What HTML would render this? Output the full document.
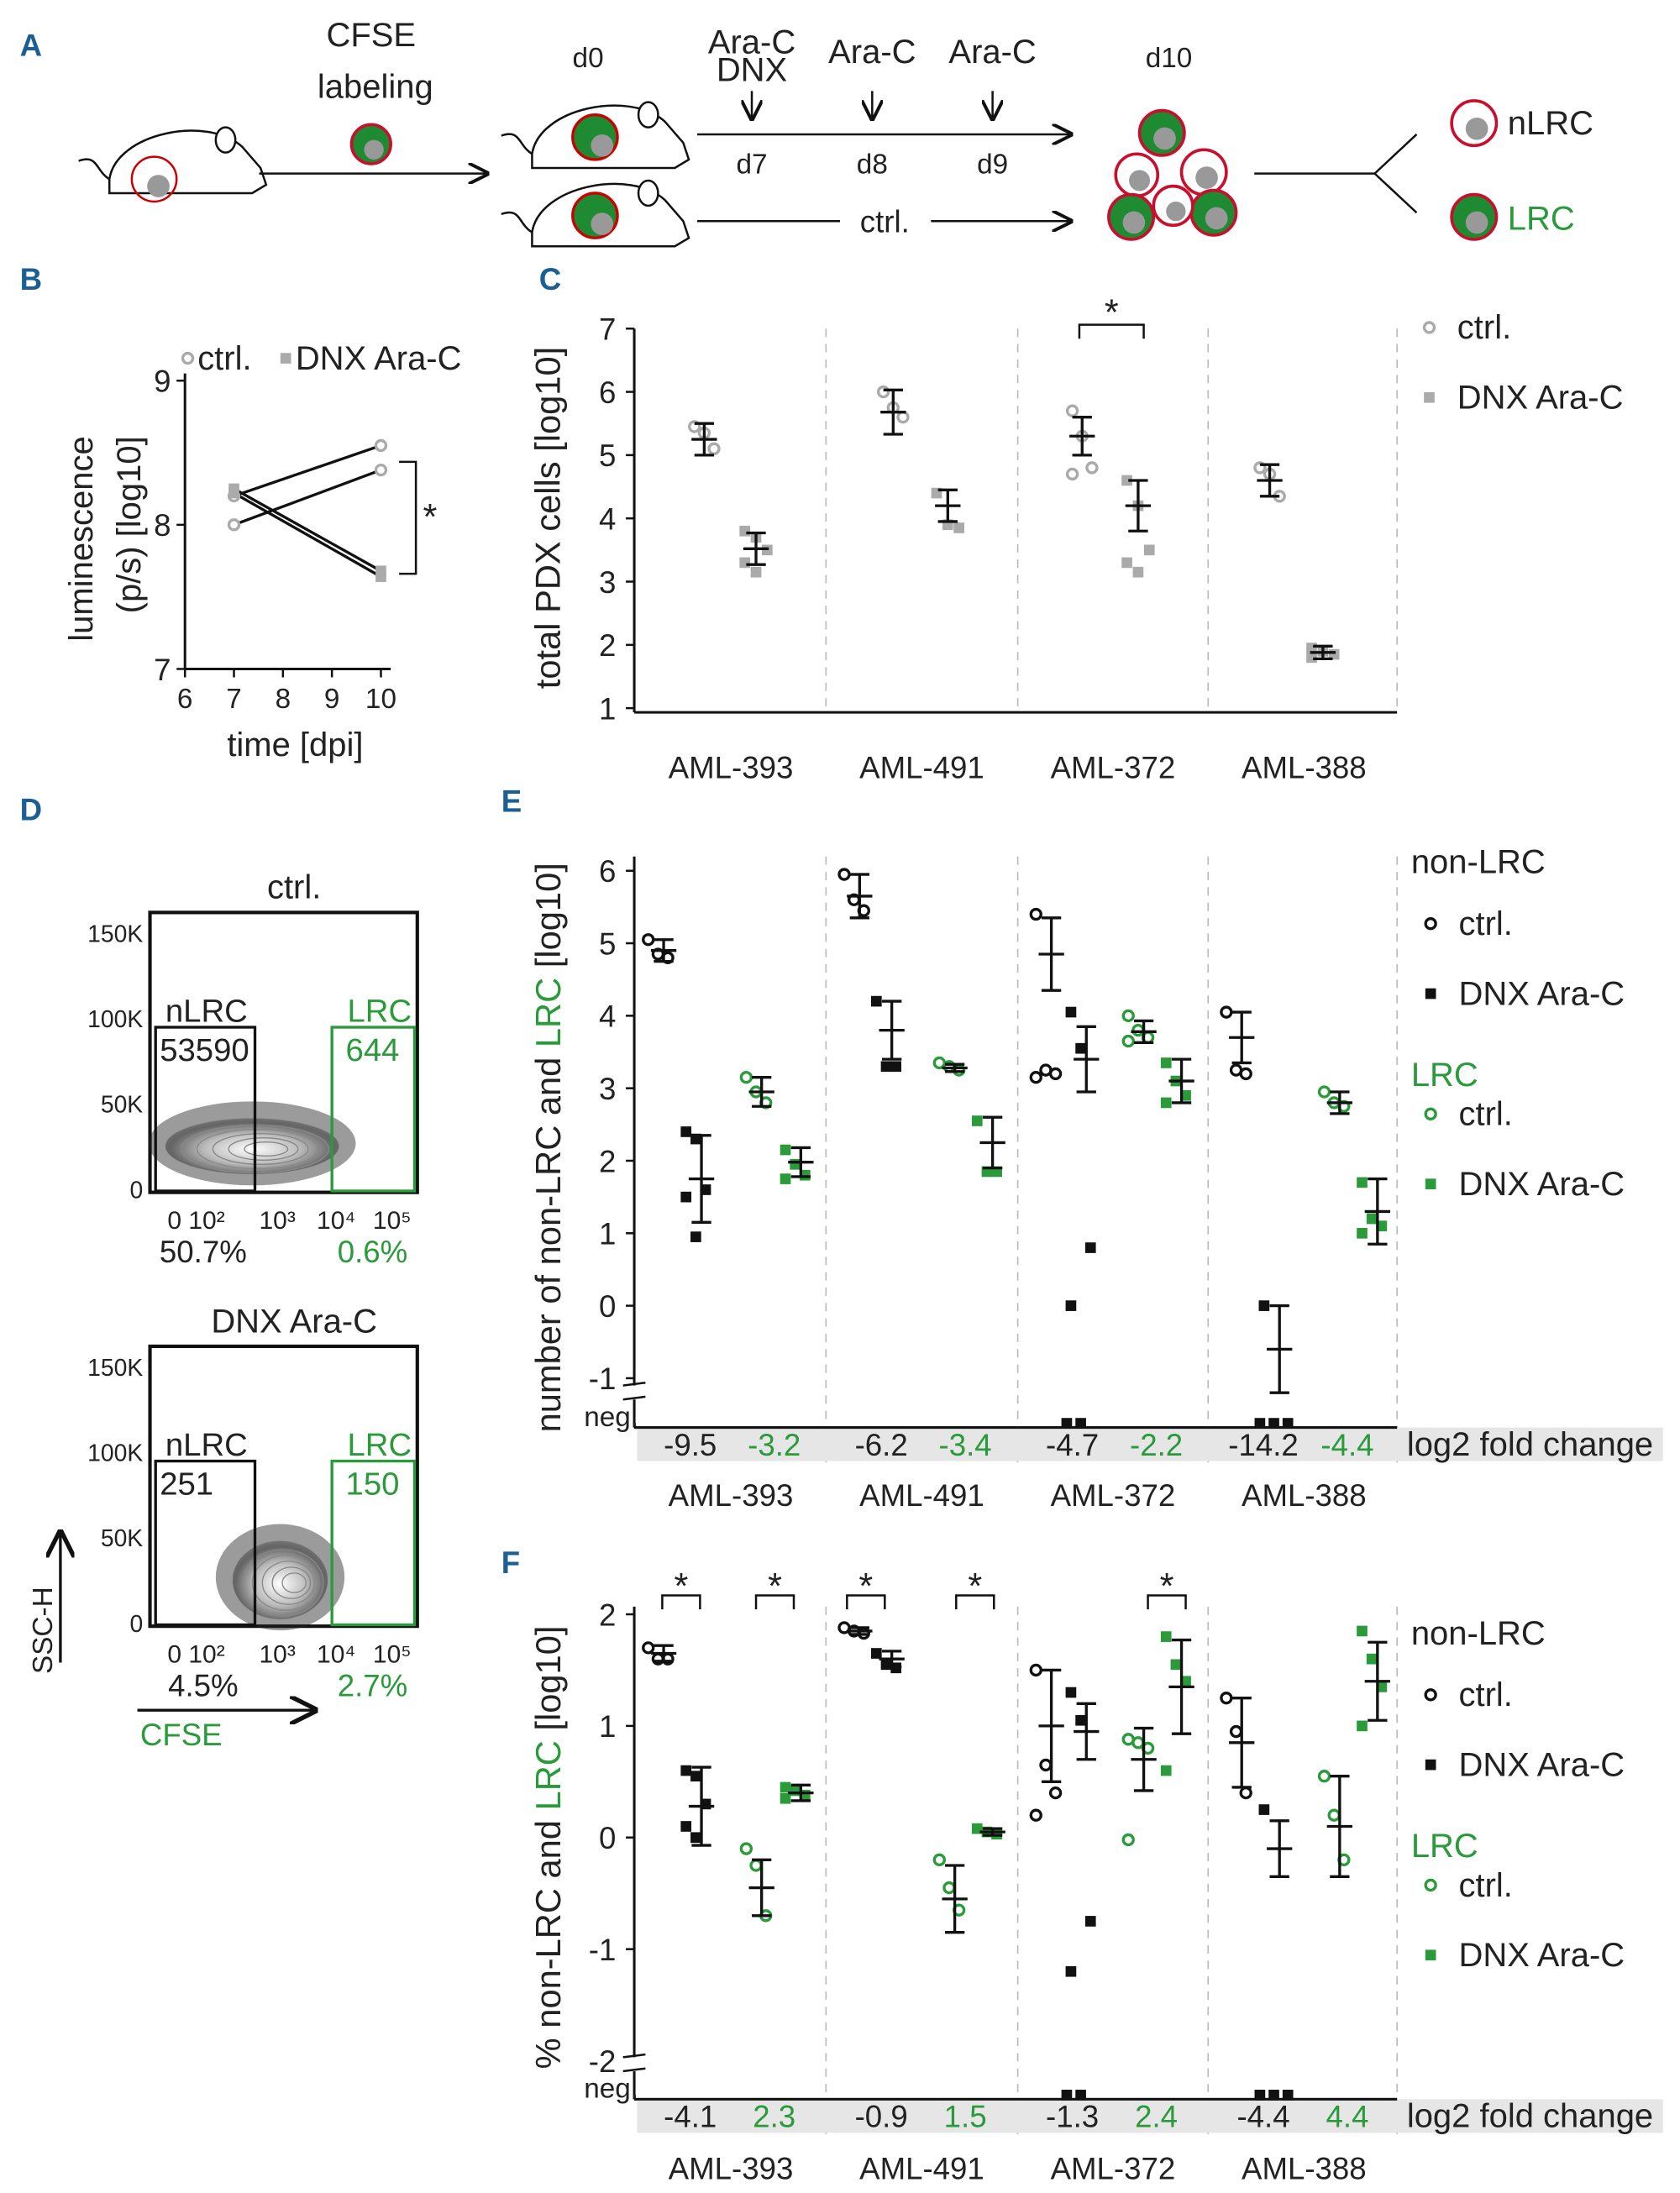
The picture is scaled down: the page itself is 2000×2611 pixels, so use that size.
<!DOCTYPE html>
<html><head><meta charset="utf-8">
<style>
html,body{margin:0;padding:0;background:#fff;}
svg{display:block;font-family:"Liberation Sans","DejaVu Sans",sans-serif;}
</style></head>
<body>
<svg id="fig" width="2000" height="2611" viewBox="0 0 1200 1567" xmlns="http://www.w3.org/2000/svg">
<defs>
<marker id="ah" markerWidth="10" markerHeight="10" refX="9" refY="5" orient="auto"><path d="M0,0 L10,5 L0,10" fill="none" stroke="#111" stroke-width="1.6"/></marker>
<radialGradient id="cg" cx="50%" cy="55%" r="55%"><stop offset="0" stop-color="#fff"/><stop offset="0.5" stop-color="#bbb"/><stop offset="0.85" stop-color="#666"/><stop offset="1" stop-color="#444" stop-opacity="0.4"/></radialGradient>
</defs>
<g fill="#1c5f93" font-weight="bold" font-size="22">
<text x="14" y="40">A</text>
<text x="14" y="207">B</text>
<text x="385" y="207">C</text>
<text x="14" y="586">D</text>
<text x="358" y="580">E</text>
<text x="358" y="1124">F</text>
</g>
<g id="panelA"></g>
<g id="panelB"></g>
<g id="panelC"></g>
<g id="panelD"></g>
<g id="panelE"></g>
<g id="panelF"></g>
</svg>
<script>
// ---------- data ----------
const groups = ["AML-393","AML-491","AML-372","AML-388"];
// Panel B
const bDays = [7, 10];
const bCtrl = [[8.2, 8.55],[8.0, 8.38]];
const bDnx = [[8.25, 7.68],[8.22, 7.64]];
const bXTicks = [6,7,8,9,10];
const bYTicks = [7,8,9];
// Panel C
const cCtrlPts = [[5.45,5.35,5.1],[6.0,5.75,5.6],[5.7,5.3,4.8,4.7],[4.8,4.7,4.35]];
const cDnxPts = [[3.8,3.7,3.5,3.3,3.15],[4.4,3.9,3.85],[4.6,4.2,3.5,3.3,3.15],[1.95,1.9,1.85,1.8]];
const cCtrlMean = [5.25,5.68,5.3,4.6];
const cCtrlErr = [0.25,0.35,0.3,0.25];
const cDnxMean = [3.52,4.2,4.2,1.88];
const cDnxErr = [0.25,0.25,0.4,0.1];
const cYTicks = [1,2,3,4,5,6,7];
// Panel E (null = neg)
const eNCtrl = [[5.05,4.85,4.8],[5.95,5.6,5.45],[5.4,3.25,3.2,3.15],[4.05,3.25,3.2]];
const eNDnx = [[2.4,2.3,1.6,1.5,0.95],[4.2,3.3,3.3],[4.05,3.55,0.8,0,null,null],[0,null,null,null]];
const eLCtrl = [[3.15,2.95,2.8],[3.35,3.3,3.25],[4.0,3.8,3.7,3.65],[2.95,2.8,2.75]];
const eLDnx = [[2.15,1.95,1.8,1.75],[2.55,1.85,1.85],[3.35,3.1,2.9,2.8],[1.7,1.2,1.1,1.0]];
const eMean = [[4.9,1.75,2.95,1.98],[5.65,3.8,3.28,2.25],[4.85,3.4,3.78,3.1],[3.7,-0.6,2.8,1.3]];
const eErr = [[0.15,0.6,0.2,0.2],[0.3,0.4,0.05,0.35],[0.5,0.45,0.15,0.3],[0.35,0.6,0.15,0.45]];
const eFold = [["-9.5","-3.2"],["-6.2","-3.4"],["-4.7","-2.2"],["-14.2","-4.4"]];
const eYTicks = [-1,0,1,2,3,4,5,6];
// Panel F
const fNCtrl = [[1.7,1.6,1.6],[1.88,1.85,1.83],[1.5,0.65,0.4,0.2],[1.25,0.95,0.4]];
const fNDnx = [[0.6,0.55,0.3,0.1,0.0],[1.65,1.55,1.52],[1.3,1.05,-0.75,-1.2,null,null],[0.25,null,null,null]];
const fLCtrl = [[-0.1,-0.25,-0.7],[-0.2,-0.45,-0.65],[0.88,0.85,0.8,-0.02],[0.55,0.2,-0.2]];
const fLDnx = [[0.45,0.42,0.38,0.35],[0.08,0.05,0.03],[1.8,1.55,1.4,0.6],[1.85,1.6,1.35,1.0]];
const fMean = [[1.65,0.28,-0.45,0.4],[1.85,1.6,-0.55,0.05],[1.0,0.95,0.7,1.35],[0.85,-0.1,0.1,1.4]];
const fErr = [[0.07,0.35,0.25,0.07],[0.03,0.07,0.3,0.03],[0.5,0.25,0.28,0.42],[0.4,0.25,0.45,0.35]];
const fFold = [["-4.1","2.3"],["-0.9","1.5"],["-1.3","2.4"],["-4.4","4.4"]];
const fYTicks = [-2,-1,0,1,2];

// ---------- helpers ----------
const NS="http://www.w3.org/2000/svg";
const GREEN="#2a9a3a", GREY="#aaaaaa";
function mk(parent, tag, attrs, text){
  const el=document.createElementNS(NS,tag);
  for(const k in attrs) el.setAttribute(k, attrs[k]);
  if(text!==undefined) el.textContent=text;
  parent.appendChild(el);
  return el;
}
function txt(p,x,y,s,size,opts){
  opts=opts||{};
  const t=mk(p,"text",{x:x,y:y,"font-size":size,fill:opts.fill||"#222","text-anchor":opts.anchor||"start"},s);
  if(opts.rot) t.setAttribute("transform","rotate(-90 "+x+" "+y+")");
  
  
  return t;
}
function line(p,x1,y1,x2,y2,w,c,dash){
  const l=mk(p,"line",{x1:x1,y1:y1,x2:x2,y2:y2,stroke:c||"#111","stroke-width":w||1.5});
  if(dash) l.setAttribute("stroke-dasharray",dash);
  return l;
}
function marker(p,x,y,type,color){
  let el;
  if(type==="circle") el=mk(p,"circle",{cx:x,cy:y,r:3.6,fill:"#fff",stroke:color,"stroke-width":2});
  else el=mk(p,"rect",{x:x-3.8,y:y-3.8,width:7.6,height:7.6,fill:color});
  
  
  return el;
}
function errbar(p,x,yc,ylo,yhi,w){
  const g=mk(p,"g",{});
  
  
  line(g,x,yhi,x,ylo,2);
  line(g,x-w,yhi,x+w,yhi,2);line(g,x-w,ylo,x+w,ylo,2);line(g,x-w*1.3,yc,x+w*1.3,yc,2);
}

// ---------- Panel A ----------
(function(){
  const g=document.getElementById("panelA");
  function mouse(x,y,cellColor){
    const m=mk(g,"g",{});
    
    
    mk(m,"path",{d:`M${x},${y+28} C${x+5},${y-5} ${x+70},${y-18} ${x+95},${y+5} L${x+108},${y+20} L${x+112},${y+32} L${x+102},${y+38} L${x},${y+38} Z`,fill:"#fff",stroke:"#111","stroke-width":1.5});
    mk(m,"ellipse",{cx:x+83,cy:y,rx:7,ry:9,fill:"#fff",stroke:"#111","stroke-width":1.5});
    mk(m,"path",{d:`M${x},${y+28} C${x-10},${y+22} ${x-8},${y+10} ${x-22},${y+15}`,fill:"none",stroke:"#111","stroke-width":1.5});
    if(cellColor){
      mk(m,"circle",{cx:x+45,cy:y+16,r:16,fill:cellColor,stroke:"#c00","stroke-width":2});
      mk(m,"circle",{cx:x+50,cy:y+22,r:8,fill:"#999"});
    }
  }
  function cell(x,y,r,filled){
    const c=mk(g,"g",{});
    
    
    mk(c,"circle",{cx:x,cy:y,r:r,fill:filled?"#1e8a32":"#fff",stroke:"#c8102e","stroke-width":2.2});
    mk(c,"circle",{cx:x+2,cy:y+4,r:r*0.5,fill:"#999"});
  }
  mouse(78,100,null);
  mk(g,"circle",{cx:110,cy:128,r:16,fill:"none",stroke:"#c00","stroke-width":1.5});
  mk(g,"circle",{cx:113,cy:133,r:8,fill:"#999"});
  txt(g,265,33,"CFSE",24,{anchor:"middle"});
  txt(g,268,70,"labeling",24,{anchor:"middle"});
  cell(265,103,14,true);
  line(g,185,124,348,124,1.5).setAttribute("marker-end","url(#ah)");
  txt(g,420,48,"d0",20,{anchor:"middle"});
  mouse(380,82,"#1e8a32");
  mouse(380,138,"#1e8a32");
  txt(g,537,38,"Ara-C",24,{anchor:"middle"});txt(g,537,58,"DNX",24,{anchor:"middle"});
  txt(g,623,45,"Ara-C",24,{anchor:"middle"});txt(g,709,45,"Ara-C",24,{anchor:"middle"});
  [537,623,709].forEach((x,i)=>{line(g,x,65,x,85,1.5).setAttribute("marker-end","url(#ah)");txt(g,x,124,["d7","d8","d9"][i],20,{anchor:"middle"});});
  line(g,498,96,765,96,1.5).setAttribute("marker-end","url(#ah)");
  line(g,498,158,600,158,1.5);
  txt(g,632,166,"ctrl.",22,{anchor:"middle"});
  line(g,665,158,765,158,1.5).setAttribute("marker-end","url(#ah)");
  txt(g,835,48,"d10",20,{anchor:"middle"});
  cell(830,95,16,true);cell(812,125,15,false);cell(860,123,16,false);cell(867,152,16,true);cell(808,155,16,true);cell(838,147,14,false);
  line(g,896,124,982,124,1.5);
  mk(g,"path",{d:"M982,124 L1012,96 M982,124 L1012,152",stroke:"#111","stroke-width":1.5,fill:"none"});
  cell(1053,88,16,false);cell(1053,155,16,true);
  txt(g,1077,96,"nLRC",24,{});
  txt(g,1077,164,"LRC",24,{fill:GREEN});
})();

// ---------- Panel B ----------
(function(){
  const g=document.getElementById("panelB");
  const X=d=>132+(d-6)*35, Y=v=>375-(v-8)*103;
  line(g,X(6),Y(9.05),X(6),Y(7),1.8);line(g,X(6),Y(7),X(10.2),Y(7),1.8);
  bXTicks.forEach(t=>{line(g,X(t),Y(7),X(t),Y(7)+6,1.5);txt(g,X(t),Y(7)+28,String(t),20,{anchor:"middle",name:"x-tick-label"});});
  bYTicks.forEach(t=>{line(g,X(6)-6,Y(t),X(6),Y(t),1.5);txt(g,X(6)-10,Y(t)+8,String(t),22,{anchor:"end",name:"y-tick-label"});});
  txt(g,X(8.25),Y(7)+62,"time [dpi]",24,{anchor:"middle",name:"x-axis-title"});
  txt(g,66,385,"luminescence",24,{anchor:"middle",rot:true,name:"y-axis-title"});
  txt(g,100,375,"(p/s) [log10]",24,{anchor:"middle",rot:true,name:"y-axis-title"});
  bCtrl.forEach(s=>{line(g,X(bDays[0]),Y(s[0]),X(bDays[1]),Y(s[1]),2);});
  bDnx.forEach(s=>{line(g,X(bDays[0]),Y(s[0]),X(bDays[1]),Y(s[1]),2);});
  bCtrl.forEach(s=>{s.forEach((v,i)=>marker(g,X(bDays[i]),Y(v),"circle",GREY));});
  bDnx.forEach(s=>{s.forEach((v,i)=>marker(g,X(bDays[i]),Y(v),"square",GREY));});
  mk(g,"path",{d:"M285,330 L297,330 L297,410 L285,410",fill:"none",stroke:"#111","stroke-width":1.5});
  txt(g,302,378,"*",26,{});
  marker(g,134,256,"circle",GREY);txt(g,141,264,"ctrl.",24,{name:"legend-ctrl"});
  marker(g,204,256,"square",GREY);txt(g,211,264,"DNX Ara-C",24,{name:"legend-dnx"});
})();

// ---------- generic dot chart ----------
function dotChart(g,cfg){
  const Y=cfg.Y;
  line(g,453,cfg.yTop,453,cfg.yBot,1.8);
  line(g,453,cfg.yBot,998,cfg.yBot,1.8);
  cfg.ticks.forEach(t=>{line(g,447,Y(t),453,Y(t),1.5);txt(g,440,Y(t)+8,String(t),22,{anchor:"end",name:"y-tick-label"});});
  [590,727,863,998].forEach(x=>line(g,x,cfg.yTop,x,cfg.yBot+(cfg.band?25:0),1,"#bbb","6,5"));
  groups.forEach((n,i)=>{txt(g,522+i*136.5,cfg.labY,n,22,{anchor:"middle",name:"x-category-label"});});
}

// ---------- Panel C ----------
(function(){
  const g=document.getElementById("panelC");
  const Y=v=>506-(v-1)*45.2;
  dotChart(g,{Y:Y,yTop:Y(7),yBot:Y(1)+3,ticks:cYTicks,labY:556});
  txt(g,400,370,"total PDX cells [log10]",25,{anchor:"middle",rot:true,name:"y-axis-title"});
  const xc=[503,638,773,907], xd=[540,677,813,945];
  groups.forEach((n,i)=>{
    cCtrlPts[i].forEach((v,j)=>marker(g,xc[i]+((j%3)-1)*7,Y(v),"circle",GREY));
    cDnxPts[i].forEach((v,j)=>marker(g,xd[i]+((j%3)-1)*8,Y(v),"square",GREY));
    errbar(g,xc[i],Y(cCtrlMean[i]),Y(cCtrlMean[i]-cCtrlErr[i]),Y(cCtrlMean[i]+cCtrlErr[i]),7);
    errbar(g,xd[i],Y(cDnxMean[i]),Y(cDnxMean[i]-cDnxErr[i]),Y(cDnxMean[i]+cDnxErr[i]),7);
  });
  mk(g,"path",{d:"M771,242 L771,232 L817,232 L817,242",fill:"none",stroke:"#111","stroke-width":1.5});
  txt(g,794,232,"*",26,{anchor:"middle"});
  marker(g,1021,234,"circle",GREY);txt(g,1041,242,"ctrl.",24,{name:"legend-ctrl"});
  marker(g,1021,284,"square",GREY);txt(g,1041,292,"DNX Ara-C",24,{name:"legend-dnx"});
})();

// ---------- Panel D ----------
(function(){
  const g=document.getElementById("panelD");
  function plot(y0,title,n1,n2,p1,p2,blobX,blobRx,blobRy){
    const p=mk(g,"g",{});
    
    
    txt(p,210,y0-10,title,24,{anchor:"middle",name:"flow-plot-title"});
    mk(p,"rect",{x:107,y:y0,width:191,height:200,fill:"none",stroke:"#111","stroke-width":2.5});
    [["150K",y0+15],["100K",y0+76],["50K",y0+137],["0",y0+198]].forEach(a=>{txt(p,102,a[1]+6,a[0],17,{anchor:"end",name:"y-tick-label"});});
    mk(p,"ellipse",{cx:blobX,cy:y0+165,rx:blobRx+12,ry:blobRy+10,fill:"#222",opacity:0.45});
    mk(p,"ellipse",{cx:blobX,cy:y0+167,rx:blobRx,ry:blobRy,fill:"url(#cg)"});
    for(let k=1;k<6;k++) mk(p,"ellipse",{cx:blobX+k*2,cy:y0+169,rx:blobRx*(1-k*0.15),ry:blobRy*(1-k*0.15),fill:"none",stroke:"#888","stroke-width":0.8});
    mk(p,"rect",{x:111,y:y0+82,width:71,height:117,fill:"none",stroke:"#111","stroke-width":2});
    mk(p,"rect",{x:237,y:y0+82,width:59,height:117,fill:"none",stroke:GREEN,"stroke-width":2});
    txt(p,118,y0+78,"nLRC",23,{});txt(p,248,y0+78,"LRC",23,{fill:GREEN});
    txt(p,114,y0+106,n1,23,{});txt(p,266,y0+106,n2,23,{anchor:"middle",fill:GREEN});
    txt(p,140,y0+226,"0 10²",18,{anchor:"middle"});txt(p,198,y0+226,"10³",18,{anchor:"middle"});
    txt(p,240,y0+226,"10⁴",18,{anchor:"middle"});txt(p,280,y0+226,"10⁵",18,{anchor:"middle"});
    txt(p,145,y0+250,p1,22,{anchor:"middle"});txt(p,266,y0+250,p2,22,{anchor:"middle",fill:GREEN});
  }
  plot(652,"ctrl.","53590","644","50.7%","0.6%",180,62,20);
  plot(962,"DNX  Ara-C","251","150","4.5%","2.7%",200,34,28);
  line(g,43,1188,43,1095,2).setAttribute("marker-end","url(#ah)");
  txt(g,37,1165,"SSC-H",20,{anchor:"middle",rot:true,name:"y-axis-title"});
  line(g,98,1222,225,1222,2).setAttribute("marker-end","url(#ah)");
  txt(g,100,1247,"CFSE",22,{fill:GREEN,name:"x-axis-title"});
})();

// ---------- Panels E & F ----------
function groupedChart(g,cfg){
  const Y=cfg.Y;
  dotChart(g,{Y:Y,yTop:cfg.yTop,yBot:cfg.bandY+2,ticks:cfg.ticks,labY:cfg.labY,band:true});
  mk(g,"rect",{x:445,y:cfg.negY-22,width:16,height:10,fill:"#fff"});
  line(g,445,cfg.negY-22,461,cfg.negY-24,1.5);line(g,445,cfg.negY-12,461,cfg.negY-14,1.5);
  txt(g,456,cfg.negY+7,"neg.",20,{anchor:"end",name:"y-tick-label"});
  mk(g,"rect",{x:455,y:cfg.bandY+2,width:733,height:24,fill:"#e6e6e6"});
  line(g,453,cfg.bandY+2,998,cfg.bandY+2,1.8);
  txt(g,1005,cfg.bandY+22,"log2 fold change",24,{name:"fold-change-title"});
  const xs=[[470,497,540,568],[610,633,678,705],[747,772,813,840],[883,910,953,980]];
  groups.forEach((n,i)=>{
    txt(g,493+i*136.5,cfg.bandY+22,cfg.fold[i][0],22,{anchor:"middle",name:"fold-change-value"});
    txt(g,553+i*136.5,cfg.bandY+22,cfg.fold[i][1],22,{anchor:"middle",fill:GREEN,name:"fold-change-value"});
    const sets=[[cfg.nc,"circle","#111"],[cfg.nd,"square","#111"],[cfg.lc,"circle",GREEN],[cfg.ld,"square",GREEN]];
    sets.forEach((s,k)=>{
      let negc=0;
      s[0][i].forEach((v,j)=>{
        if(v===null){marker(g,xs[i][k]+(negc-1)*10,cfg.negY+5,"square",s[2]);negc++;}
        else marker(g,xs[i][k]+((j%3)-1)*7,Y(v),s[1],s[2]);
      });
      const m=cfg.mean[i][k], e=cfg.err[i][k];
      errbar(g,xs[i][k]+4,Y(m),Y(m-e),Y(m+e),7);
    });
  });
  const L=cfg.legY;
  txt(g,1008,L,"non-LRC",24,{name:"legend-group"});
  marker(g,1022,L+36,"circle","#111");txt(g,1042,L+44,"ctrl.",24,{name:"legend-ctrl"});
  marker(g,1022,L+86,"square","#111");txt(g,1042,L+94,"DNX Ara-C",24,{name:"legend-dnx"});
  txt(g,1008,L+152,"LRC",24,{fill:GREEN,name:"legend-group"});
  marker(g,1022,L+172,"circle",GREEN);txt(g,1042,L+180,"ctrl.",24,{name:"legend-ctrl"});
  marker(g,1022,L+222,"square",GREEN);txt(g,1042,L+230,"DNX Ara-C",24,{name:"legend-dnx"});
}
(function(){
  const g=document.getElementById("panelE");
  const Y=v=>933-v*51.8;
  groupedChart(g,{Y:Y,yTop:612,ticks:eYTicks,negY:1012,bandY:1018,labY:1076,nc:eNCtrl,nd:eNDnx,lc:eLCtrl,ld:eLDnx,mean:eMean,err:eErr,fold:eFold,legY:624});
  const t=mk(g,"text",{x:0,y:0,"font-size":25,fill:"#222","text-anchor":"middle",transform:"translate(400 820) rotate(-90)"});
  
  
  t.innerHTML='number of non-LRC and <tspan fill="'+GREEN+'">LRC</tspan> [log10]';
})();
(function(){
  const g=document.getElementById("panelF");
  const Y=v=>1313-v*79.75;
  groupedChart(g,{Y:Y,yTop:1148,ticks:fYTicks,negY:1492,bandY:1498,labY:1557,nc:fNCtrl,nd:fNDnx,lc:fLCtrl,ld:fLDnx,mean:fMean,err:fErr,fold:fFold,legY:1175});
  const t=mk(g,"text",{x:0,y:0,"font-size":25,fill:"#222","text-anchor":"middle",transform:"translate(400 1320) rotate(-90)"});
  
  
  t.innerHTML='% non-LRC and <tspan fill="'+GREEN+'">LRC</tspan> [log10]';
  [[473,500],[540,567],[605,632],[683,710],[820,847]].forEach(b=>{
    mk(g,"path",{d:`M${b[0]},1150 L${b[0]},1140 L${b[1]},1140 L${b[1]},1150`,fill:"none",stroke:"#111","stroke-width":1.5});
    txt(g,(b[0]+b[1])/2,1142,"*",26,{anchor:"middle"});
  });
})();
</script>
</body></html>
